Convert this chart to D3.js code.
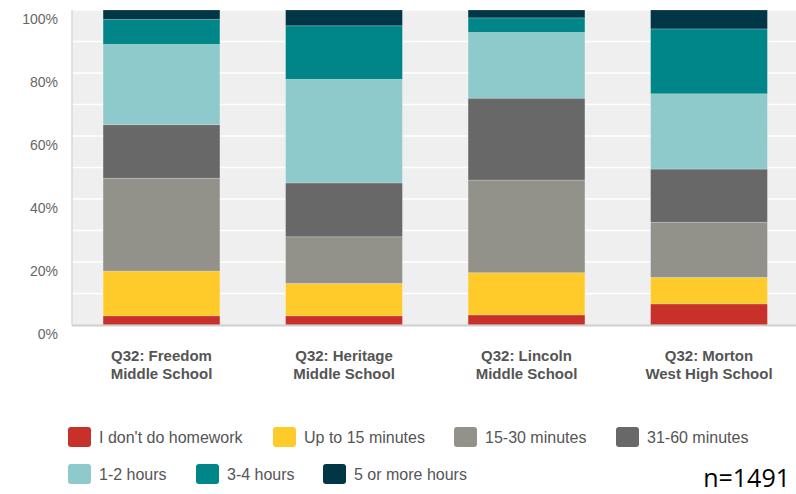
<!DOCTYPE html>
<html><head><meta charset="utf-8">
<script src="https://cdn.jsdelivr.net/npm/d3@7"></script>
<style>body{margin:0;background:#fff}svg{display:block}</style>
</head><body>
<svg id="c" width="796" height="494"></svg>
<script>
const schools = [["Q32: Freedom","Middle School"],["Q32: Heritage","Middle School"],["Q32: Lincoln","Middle School"],["Q32: Morton","West High School"]];
const seriesNames = ["I don't do homework","Up to 15 minutes","15-30 minutes","31-60 minutes","1-2 hours","3-4 hours","5 or more hours"];
const seriesColors = ["#c8302a","#ffcb2a","#92928a","#686868","#8ec9cb","#008688","#003646"];
const noHomework = [2.9, 2.9, 3.2, 6.7];
const upTo15 = [14.2, 10.3, 13.4, 8.4];
const min15to30 = [29.5, 14.8, 29.4, 17.5];
const min31to60 = [17.0, 17.1, 26.0, 16.9];
const hours1to2 = [25.5, 32.9, 20.9, 23.9];
const hours3to4 = [7.9, 17.0, 4.6, 20.6];
const hours5plus = [3.0, 5.0, 2.5, 6.0];
const yTicks = [0, 20, 40, 60, 80, 100];
const gridTicks = [10,20,30,40,50,60,70,80,90,100];
const nLabel = "n=1491";

(function(){
const allSeries = [noHomework, upTo15, min15to30, min31to60, hours1to2, hours3to4, hours5plus];
const keys = seriesNames;
const table = schools.map((s, i) => {
  const row = {school: s.join(" ")};
  keys.forEach((k, j) => row[k] = allSeries[j][i]);
  return row;
});

const svg = d3.select("#c");
const pL = 72, pR = 796, pT = 10, pB = 325;
const x = d3.scaleBand().domain(table.map(d => d.school)).range([70.25, 800.25]).paddingInner(0.36).paddingOuter(0.18);
const y = d3.scaleLinear().domain([0, 100]).range([pB, pT]);

svg.append("rect").attr("x", pL).attr("y", pT).attr("width", pR - pL).attr("height", pB - pT).attr("fill", "#efefef");
svg.append("g").selectAll("line").data(gridTicks).join("line")
  .attr("x1", pL).attr("x2", pR).attr("y1", d => y(d)).attr("y2", d => y(d))
  .attr("stroke", "#fff").attr("stroke-width", 1.5);
svg.append("line").attr("x1", pL).attr("x2", pL).attr("y1", pT).attr("y2", pB).attr("stroke", "#d8d8d8").attr("stroke-width", 1.5);

const stacked = d3.stack().keys(keys)(table);
svg.append("g").selectAll("g").data(stacked).join("g")
  .attr("fill", (d, i) => seriesColors[i])
  .selectAll("rect").data(d => d).join("rect")
  .attr("x", d => x(d.data.school))
  .attr("width", x.bandwidth())
  .attr("y", d => y(d[1]))
  .attr("height", d => y(d[0]) - y(d[1]))
  .attr("stroke", "rgba(255,255,255,0.25)").attr("stroke-width", 0.8);

svg.append("line").attr("x1", pL).attr("x2", pR).attr("y1", pB + 0.5).attr("y2", pB + 0.5).attr("stroke", "#cfcfcf").attr("stroke-width", 2);

const yAxis = d3.axisLeft(y).tickValues(yTicks).tickFormat(d => d + "%").tickSize(0).tickPadding(0);
const ya = svg.append("g").attr("transform", "translate(58,9)").call(yAxis);
ya.select(".domain").remove();
ya.selectAll("text").attr("font-family", "Liberation Sans, Arial, sans-serif").attr("font-size", 14).attr("fill", "#666");

const cat = svg.append("g");
table.forEach((d, i) => {
  const cx = x(d.school) + x.bandwidth() / 2;
  const t = cat.append("text").attr("x", cx).attr("y", 361).attr("text-anchor", "middle")
    .attr("font-family", "Liberation Sans, Arial, sans-serif").attr("font-weight", "bold").attr("font-size", 15).attr("fill", "#555");
  t.append("tspan").attr("x", cx).attr("y", 361).text(schools[i][0]);
  t.append("tspan").attr("x", cx).attr("y", 379).text(schools[i][1]);
});

const legendPos = [[68,437],[273,437],[454,437],[616,437],[68,474],[196,474],[323,474]];
const lg = svg.append("g");
keys.forEach((k, i) => {
  const [lx, ly] = legendPos[i];
  lg.append("rect").attr("x", lx).attr("y", ly - 10).attr("width", 23).attr("height", 20).attr("rx", 3)
    .attr("fill", seriesColors[i]);
  lg.append("text").attr("x", lx + 31).attr("y", ly).attr("dy", "0.35em")
    .attr("font-family", "Liberation Sans, Arial, sans-serif").attr("font-size", 16).attr("fill", "#555").text(k);
});

svg.append("text").attr("x", 790).attr("y", 487).attr("text-anchor", "end")
  .attr("font-family", "Open Sans, Noto Sans, sans-serif").attr("font-size", 25).attr("fill", "#000").text(nLabel);
})();
</script>
</body></html>
